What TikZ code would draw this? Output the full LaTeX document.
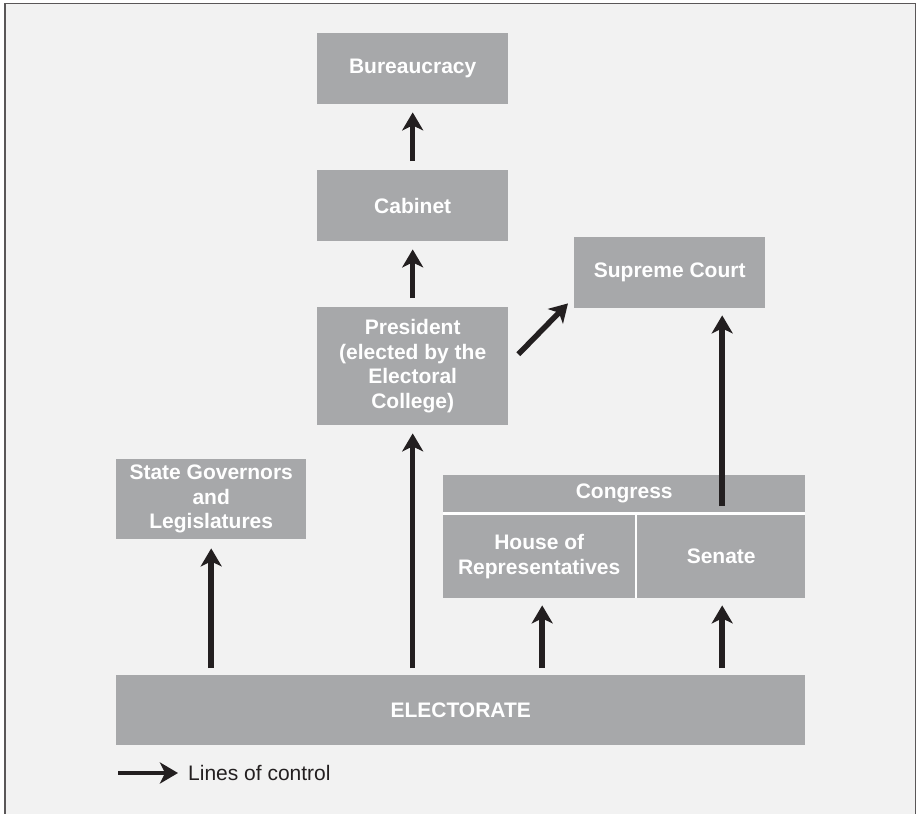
\documentclass[tikz,border=0pt]{standalone}
\usepackage{fontspec}
\setmainfont{Liberation Sans}
\usetikzlibrary{arrows.meta,calc}
\definecolor{boxgray}{HTML}{A7A8AA}
\definecolor{bgc}{HTML}{F2F2F2}
\definecolor{ink}{HTML}{231F20}
\begin{document}
\begin{tikzpicture}[x=1pt,y=-1pt,
  box/.style={fill=boxgray, text=white, font=\bfseries\fontsize{21}{24.6}\selectfont,
    align=center, inner sep=0pt, anchor=north west},
  ctrl/.style={draw=ink, line width=5.5pt, -{Stealth[length=18pt,width=21pt,inset=5pt]}},
  legtxt/.style={text=ink, font=\fontsize{21}{24}\selectfont, inner sep=0pt, anchor=west}]
\useasboundingbox (0,0) rectangle (919,814);
\fill[white] (0,0) rectangle (919,814);
\filldraw[fill=bgc, draw=ink!75, line width=1.5pt] (5,3.5) rectangle (915.5,840);

\node[box, minimum width=191pt, minimum height=71pt] (bureau) at (317,33) {Bureaucracy};
\node[box, minimum width=191pt, minimum height=71pt] (cabinet) at (317,170) {Cabinet};
\node[box, minimum width=191pt, minimum height=71pt] (supreme) at (574,237) {Supreme Court};
\node[box, minimum width=191pt, minimum height=118pt] (president) at (317,307)
  {President\\(elected by the\\Electoral\\College)};
\node[box, minimum width=190pt, minimum height=80pt] (governors) at (116,459)
  {State Governors\\and\\Legislatures};
\fill[white] (443,475) rectangle (805,598);
\node[box, minimum width=362pt, minimum height=37pt] (congress) at (443,475) {Congress};
\node[box, minimum width=192pt, minimum height=83pt] (house) at (443,515)
  {House of\\Representatives};
\node[box, minimum width=168pt, minimum height=83pt] (senate) at (637,515) {Senate};
\node[box, minimum width=689pt, minimum height=70pt] (electorate) at (116,675) {ELECTORATE};

% arrows
\draw[ctrl] ($(cabinet.north)+(0,-9)$) -- ($(bureau.south)+(0,8)$);
\draw[ctrl] ($(president.north)+(0,-9)$) -- ($(cabinet.south)+(0,8)$);
\draw[ctrl] ($(president.south |- electorate.north)+(0,-7)$) -- ($(president.south)+(0,8)$);
\draw[ctrl] ($(governors.south |- electorate.north)+(0,-7)$) -- ($(governors.south)+(0,9)$);
\draw[ctrl] ($(house.south |- electorate.north)+(3,-7)$) -- ($(house.south)+(3,7)$);
\draw[ctrl] ($(senate.south |- electorate.north)+(1,-7)$) -- ($(senate.south)+(1,7)$);
\draw[ctrl] ($(senate.north)+(1,-9)$) -- ($(senate.north |- supreme.south)+(1,7)$);
\draw[ctrl] ($(president.east)+(10,-12)$) -- ($(supreme.south west)+(-6,-5)$);

% legend
\coordinate (legstart) at (118,773);
\node[legtxt] (legend) at (188,773) {Lines of control};
\draw[ctrl, line width=4.5pt] (legstart) -- ($(legend.west)+(-10,0)$);
\end{tikzpicture}
\end{document}
